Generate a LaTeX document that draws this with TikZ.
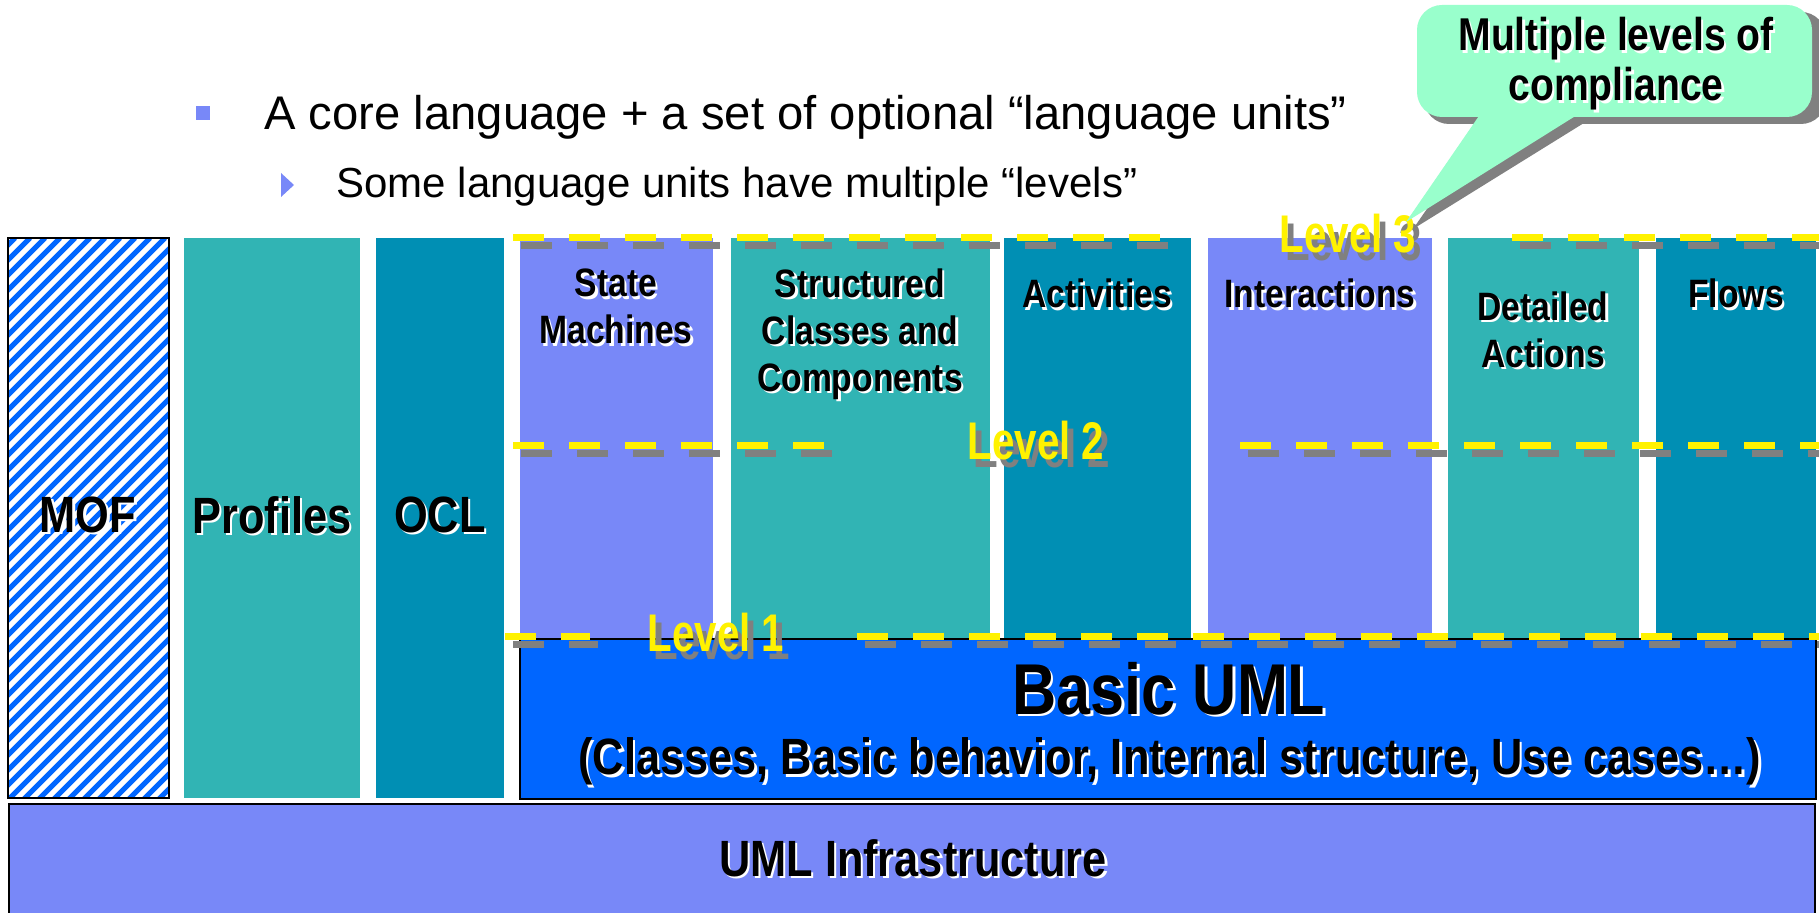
\documentclass[tikz,border=0pt]{standalone}
\usepackage{fontspec}
\setmainfont{Liberation Sans}
\newfontfamily\nb[FakeStretch=0.85]{Liberation Sans Bold}
\newfontfamily\nbl[FakeStretch=0.76]{Liberation Sans Bold}
\definecolor{tealc}{HTML}{31B4B4}
\definecolor{oceanc}{HTML}{008FB4}
\definecolor{peric}{HTML}{7888F8}
\definecolor{umlblue}{HTML}{0066FF}
\definecolor{mintc}{HTML}{99FFCC}
\definecolor{shgrey}{HTML}{808080}
\newcommand\wsh[1]{\leavevmode\rlap{\kern1.2pt\raisebox{-1.2pt}{\textcolor{white}{#1}}}#1}
\newcommand\gsh[1]{\leavevmode\rlap{\kern3pt\raisebox{-4pt}{\textcolor{shgrey}{#1}}}#1}
\begin{document}
\begin{tikzpicture}[x=0.5pt,y=-0.5pt,
  box/.style={rectangle, inner sep=0, outer sep=0, anchor=north west},
  col/.style={box, draw=none, minimum height=200pt},
  tall/.style={box, draw=none, minimum height=280pt},
  collab/.style={font=\nb\fontsize{19.8}{23.5}\selectfont, align=center, inner sep=0},
  biglab/.style={font=\nb\fontsize{25.5}{30}\selectfont, inner sep=0},
  lvl/.style={font=\nbl\fontsize{26.5}{30}\selectfont, text=yellow, inner sep=0},
  lvlline/.style={line width=3.5pt, dash pattern=on 15.5pt off 12.5pt, draw=yellow},
  lvlshadow/.style={line width=3.5pt, dash pattern=on 15.5pt off 12.5pt, draw=shgrey},
  txt/.style={inner sep=0, anchor=base west}
]
\useasboundingbox[fill=white] (0,0) rectangle (1819,913);

% infrastructure
\node[box, draw=black, line width=0.7pt, fill=peric, minimum width=903pt, minimum height=60pt] (infra) at (9,804) {};
\node[biglab] (infraL) at (913,859) {\wsh{UML Infrastructure}};

% MOF (striped)
\node[tall, fill=white, minimum width=80.5pt] (mof) at (8,238) {};
\begin{scope}
  \clip (mof.south west) rectangle (mof.north east);
  \foreach \k in {-38,...,11} \draw[umlblue, line width=2.6pt] (8+\k*15,800) -- ++(562,-562);
\end{scope}
\draw[black, line width=0.7pt] (mof.south west) rectangle (mof.north east);
\node[tall, fill=tealc, minimum width=88pt] (prof) at (184,238) {};
\node[tall, fill=oceanc, minimum width=64pt] (ocl) at (376,238) {};

% language unit columns
\node[col, fill=peric, minimum width=96.5pt] (sm) at (520,238) {};
\node[col, fill=tealc, minimum width=129.5pt] (scc) at (731,238) {};
\node[col, fill=oceanc, minimum width=93.5pt] (act) at (1004,238) {};
\node[col, fill=peric, minimum width=112pt] (inter) at (1208,238) {};
\node[col, fill=tealc, minimum width=95.5pt] (da) at (1448,238) {};
\node[col, fill=oceanc, minimum width=80pt] (flows) at (1656,238) {};

% Basic UML
\node[box, draw=black, line width=0.7pt, fill=umlblue, minimum width=648pt, minimum height=80pt] (basic) at (520,639) {};
\node[font=\nb\fontsize{36}{40}\selectfont, inner sep=0] (basicL) at (1169,690) {\wsh{Basic UML}};
\node[biglab] (basicS) at (1170,763) {\wsh{(Classes, Basic behavior, Internal structure, Use cases…)}};

% labels
\node[biglab] (mofL) at (88,516) {\wsh{MOF}};
\node[biglab] (profL) at (272,516) {\wsh{Profiles}};
\node[biglab] (oclL) at (440,516) {\wsh{OCL}};
\node[collab] (smL) at (616,308) {\wsh{State}\\\wsh{Machines}};
\node[collab] (sccL) at (860,335) {\wsh{Structured}\\\wsh{Classes and}\\\wsh{Components}};
\node[collab] (actL) at (1097,295) {\wsh{Activities}};
\node[collab] (interL) at (1320,295) {\wsh{Interactions}};
\node[collab] (daL) at (1543,331) {\wsh{Detailed}\\\wsh{Actions}};
\node[collab] (flowsL) at (1736,295) {\wsh{Flows}};

% level lines
\coordinate (l3a) at (513,238); \coordinate (l3b) at (1170,238);
\coordinate (l3c) at (1512,238); \coordinate (l3d) at (1819,238);
\coordinate (l2a) at (513,446); \coordinate (l2b) at (830,446);
\coordinate (l2c) at (1240,446); \coordinate (l2d) at (1819,446);
\coordinate (l1a) at (505,637); \coordinate (l1b) at (590,637);
\coordinate (l1c) at (857,637); \coordinate (l1d) at (1819,637);
\foreach \a/\b in {l3a/l3b,l3c/l3d,l2a/l2b,l2c/l2d,l1a/l1b,l1c/l1d}{
  \draw[lvlshadow] ([shift={(8,8)}]\a) -- ([shift={(8,8)}]\b);
  \draw[lvlline] (\a) -- (\b);
}
\node[lvl] (lv3) at (1348,238) {\gsh{Level 3}};
\node[lvl] (lv2) at (1036,445) {\gsh{Level 2}};
\node[lvl] (lv1) at (716,637) {\gsh{Level 1}};

% callout
\coordinate (tip) at (1406,222);
\fill[shgrey, rounded corners=12.5pt] (1424,12) rectangle (1826,124);
\fill[shgrey] (1490,118) -- ([shift={(7,7)}]tip) -- (1592,118) -- cycle;
\node[box, fill=mintc, rounded corners=12.5pt, minimum width=197.5pt, minimum height=56pt] (callout) at (1417,5) {};
\fill[mintc] (1483,110) -- (tip) -- (1585,110) -- cycle;
\node[font=\nb\fontsize{23}{25}\selectfont, align=center, inner sep=0] (calloutL) at (1616,65) {\wsh{Multiple levels of}\\\wsh{compliance}};

% bullets
\fill[peric] (196,106) rectangle (210,120);
\fill[peric] (281,173) -- (294,185) -- (281,197) -- cycle;
\node[txt, font=\fontsize{23.6}{28}\selectfont] (t1) at (264,130) {A core language + a set of optional “language units”};
\node[txt, font=\fontsize{21}{25}\selectfont] (t2) at (336,198) {Some language units have multiple “levels”};
\end{tikzpicture}
\end{document}
